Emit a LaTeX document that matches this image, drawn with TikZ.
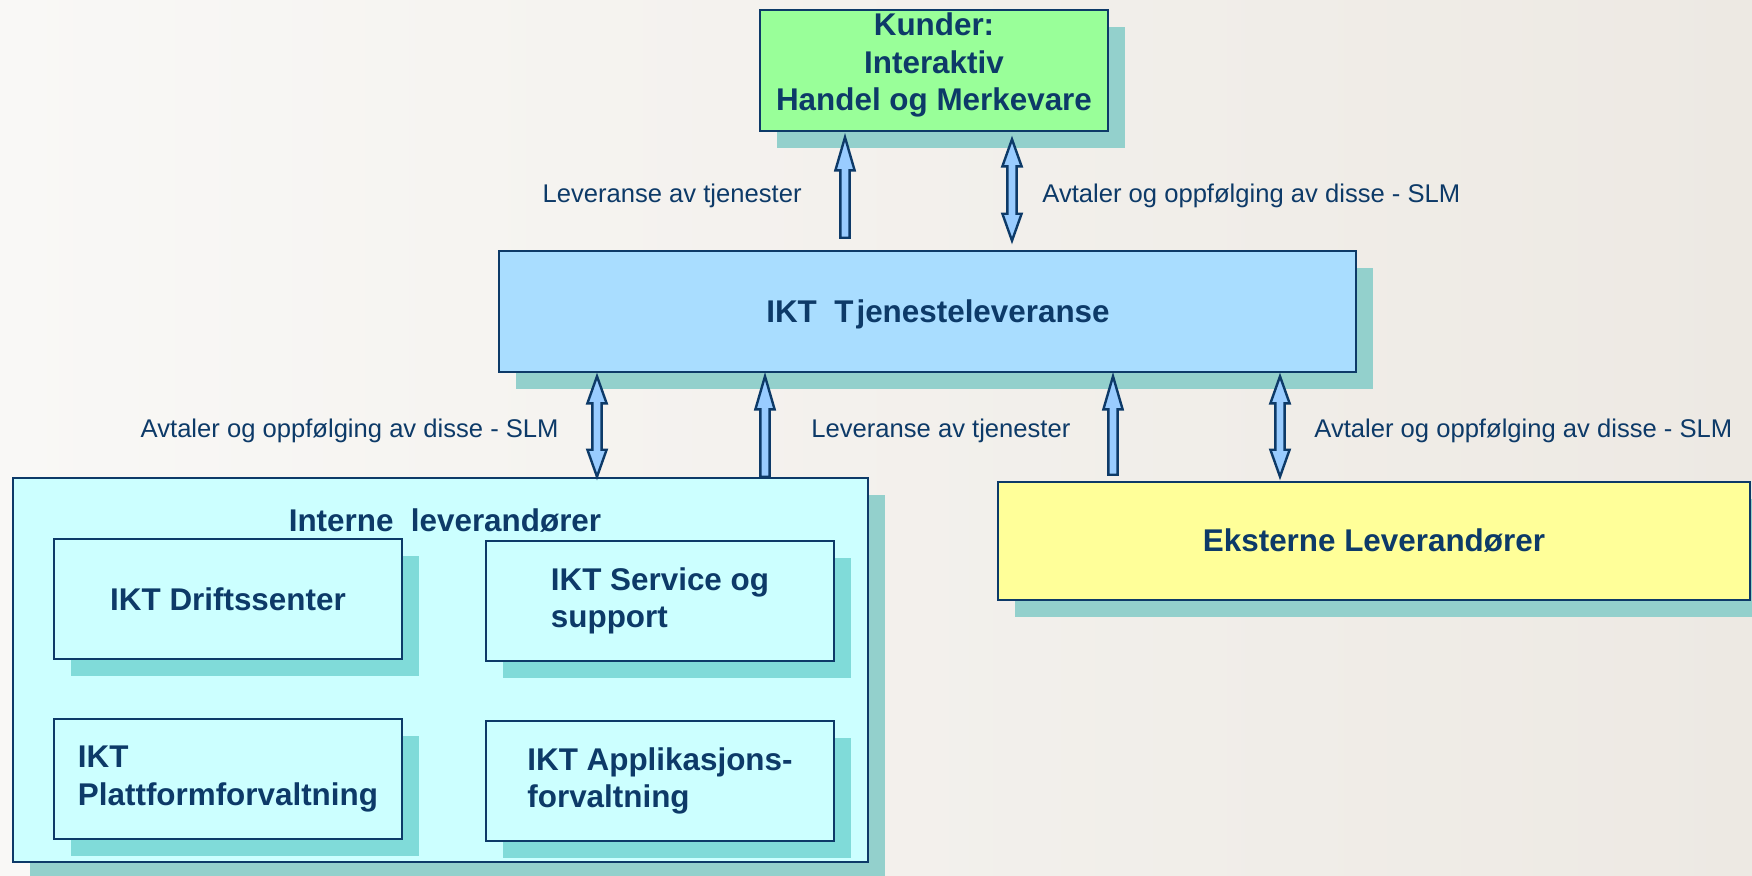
\documentclass[tikz,border=0pt]{standalone}
\usepackage{fontspec}
\setmainfont{Liberation Sans}
\usetikzlibrary{calc,shadows}

\definecolor{ink}{HTML}{0D3A68}
\definecolor{kundegreen}{HTML}{99FF99}
\definecolor{midblue}{HTML}{A9DDFF}
\definecolor{paleCyan}{HTML}{CCFFFF}
\definecolor{paleYellow}{HTML}{FFFF99}
\definecolor{shadeTeal}{HTML}{93D0CC}
\definecolor{innerTeal}{HTML}{80DBD9}
\definecolor{arrowBlue}{HTML}{99CCFF}
\definecolor{bgLeft}{HTML}{F9F8F6}
\definecolor{bgRight}{HTML}{EDE9E3}

% geometry of the fat block arrows
\newcommand\arrShaft{2.3pt}
\newcommand\arrHead{4.8pt}
\newcommand\arrLong{16.5pt}
\newcommand\arrShort{13.5pt}

% single-headed block arrow from #1 (tail) up to #2 (tip)
\newcommand\liftArrow[2]{%
  \draw[fatarrow] let \p1=#1, \p2=#2 in
    (\x1-\arrShaft,\y1) -- (\x1-\arrShaft,\y2-\arrLong) -- (\x1-\arrHead,\y2-\arrLong)
    -- (\x1,\y2) -- (\x1+\arrHead,\y2-\arrLong) -- (\x1+\arrShaft,\y2-\arrLong)
    -- (\x1+\arrShaft,\y1) -- cycle;}

% double-headed block arrow between #1 (lower end) and #2 (upper end)
\newcommand\bothArrow[2]{%
  \draw[fatarrow] let \p1=#1, \p2=#2 in
    (\x1,\y1) -- (\x1-\arrHead,\y1+\arrShort) -- (\x1-\arrShaft,\y1+\arrShort)
    -- (\x1-\arrShaft,\y2-\arrShort) -- (\x1-\arrHead,\y2-\arrShort) -- (\x1,\y2)
    -- (\x1+\arrHead,\y2-\arrShort) -- (\x1+\arrShaft,\y2-\arrShort)
    -- (\x1+\arrShaft,\y1+\arrShort) -- (\x1+\arrHead,\y1+\arrShort) -- cycle;}

\begin{document}
\begin{tikzpicture}[x=0.5pt,y=-0.5pt,
  boldtext/.style={text=ink,inner sep=0pt,font=\fontsize{15.7}{18.8}\selectfont\bfseries},
  box/.style={boldtext,draw=ink,line width=1.3pt,
    drop shadow={shadow xshift=8.5pt,shadow yshift=-8.5pt,fill=shadeTeal,opacity=1}},
  innerbox/.style={box,fill=paleCyan,minimum width=174pt,minimum height=60pt,
    drop shadow={shadow xshift=8.5pt,shadow yshift=-8.5pt,fill=innerTeal,opacity=1}},
  lab/.style={text=ink,inner sep=0pt,font=\fontsize{12.8}{15}\selectfont},
  fatarrow/.style={draw=ink,fill=arrowBlue,line width=1.2pt,line join=miter}]

\useasboundingbox (0,0) rectangle (1752,875);
\shade[left color=bgLeft,right color=bgRight] (0,0) rectangle (1752,875);

% boxes
\node[box,fill=kundegreen,minimum width=174pt,minimum height=60.5pt]
  (kunde) at (934,70.5) {};
\node[boldtext,align=center] (kundetext) at (934,65)
  {Kunder:\\Interaktiv\\Handel og Merkevare};
\node[box,fill=midblue,minimum width=428.5pt,minimum height=60.5pt]
  (mid) at (927.5,311.5) {};
\node[boldtext] (midtext) at (938,314) {IKT~~T\kern1.5pt jenesteleveranse};
\node[box,fill=paleCyan,minimum width=427.5pt,minimum height=192pt]
  (interne) at (440.5,670) {};
\node[boldtext] (internetitle) at (445,521) {Interne~~leverandører};
\node[innerbox] (drift) at (228,599) {IKT Driftssenter};
\node[innerbox,align=left] (service) at (660,601) {IKT Service og\\support};
\node[innerbox,align=left] (plattform) at (228,779) {IKT\\Plattformforvaltning};
\node[innerbox,align=left] (applik) at (660,781) {IKT Applikasjons-\\forvaltning};
\node[box,fill=paleYellow,minimum width=376pt,minimum height=59pt]
  (ekstern) at (1374,541) {Eksterne Leverandører};

% arrow end points
\coordinate (a1s) at ($(mid.north -| 845,0)+(0,-12)$);
\coordinate (a1e) at ($(kunde.south -| 845,0)+(0,5)$);
\coordinate (a2s) at ($(mid.north -| 1012,0)+(0,-9)$);
\coordinate (a2e) at ($(kunde.south -| 1012,0)+(0,7)$);
\coordinate (a3s) at (interne.north -| 597,0);
\coordinate (a3e) at ($(mid.south -| 597,0)+(0,3)$);
\coordinate (a4s) at (interne.north -| 765,0);
\coordinate (a4e) at ($(mid.south -| 765,0)+(0,3)$);
\coordinate (a5s) at ($(ekstern.north -| 1113,0)+(0,-6)$);
\coordinate (a5e) at ($(mid.south -| 1113,0)+(0,3)$);
\coordinate (a6s) at ($(ekstern.north -| 1280,0)+(0,-4)$);
\coordinate (a6e) at ($(mid.south -| 1280,0)+(0,3)$);

\liftArrow{(a1s)}{(a1e)}
\bothArrow{(a2s)}{(a2e)}
\bothArrow{(a3s)}{(a3e)}
\liftArrow{(a4s)}{(a4e)}
\liftArrow{(a5s)}{(a5e)}
\bothArrow{(a6s)}{(a6e)}

% arrow captions
\node[lab,anchor=east] (l1) at (802,196) {Leveranse av tjenester};
\node[lab,anchor=west] (l2) at (1042,196) {Avtaler og oppfølging av disse - SLM};
\node[lab,anchor=east] (l3) at (559,431) {Avtaler og oppfølging av disse - SLM};
\node[lab,anchor=west] (l4) at (811,431) {Leveranse av tjenester};
\node[lab,anchor=west] (l5) at (1314,431) {Avtaler og oppfølging av disse - SLM};
\end{tikzpicture}
\end{document}
